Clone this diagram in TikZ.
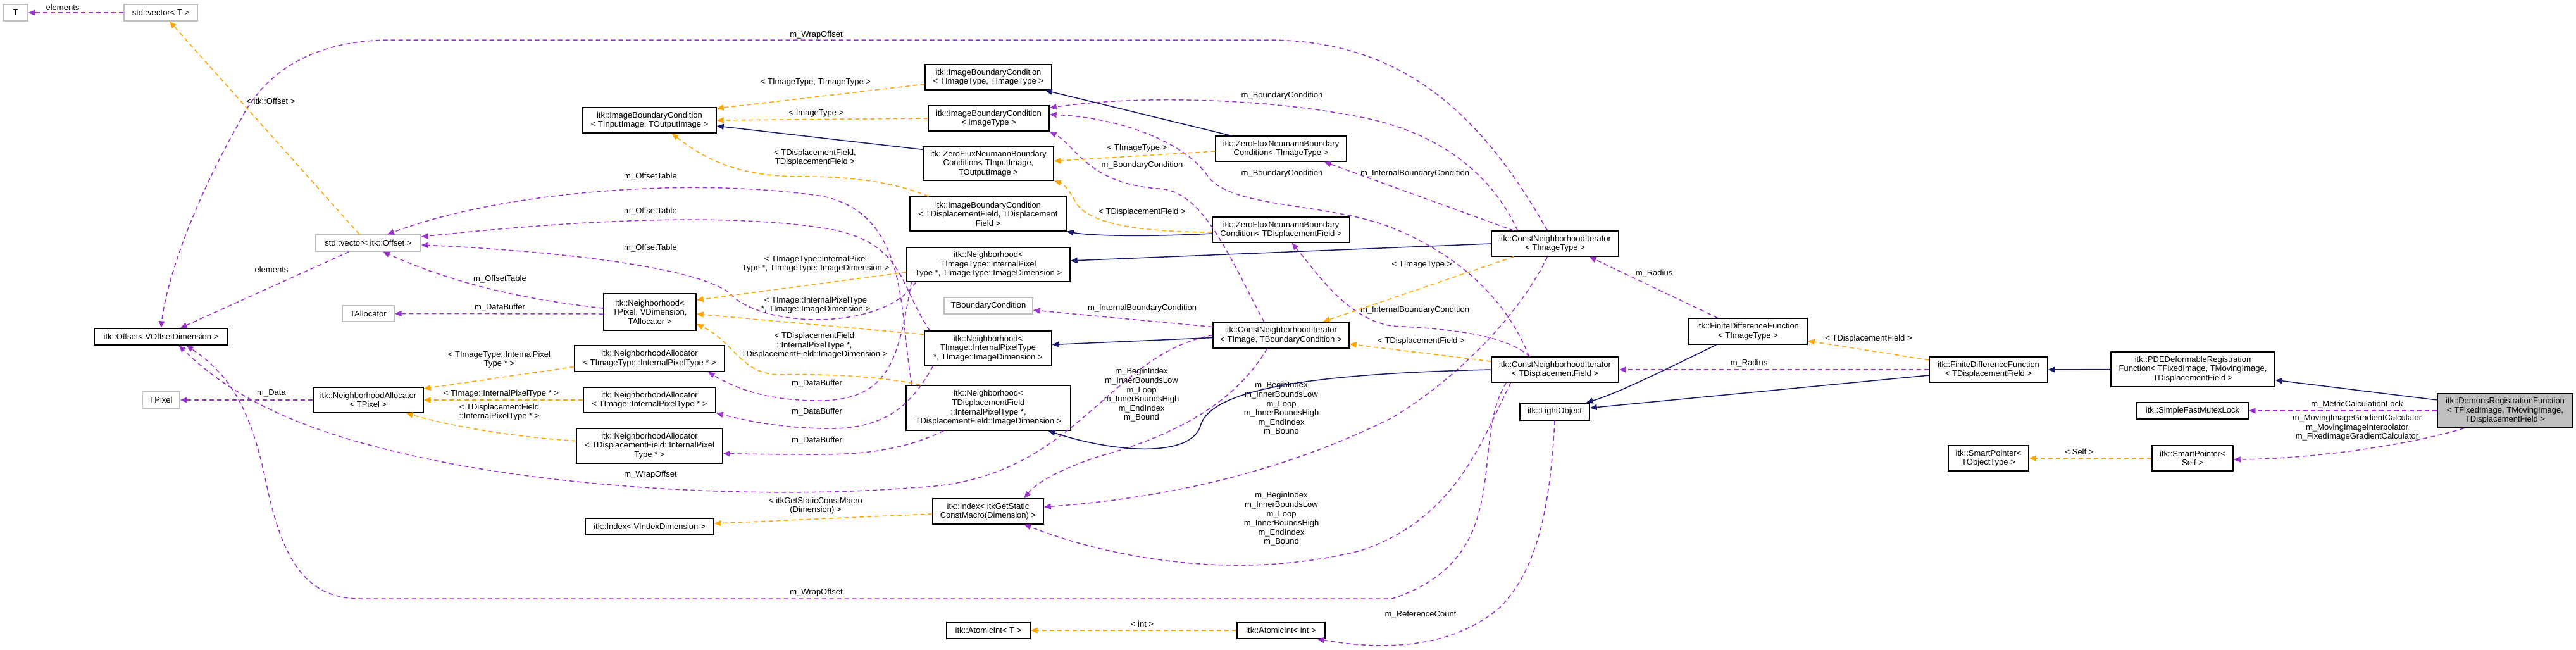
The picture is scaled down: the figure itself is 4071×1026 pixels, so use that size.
\documentclass[tikz,border=0pt]{standalone}
\usepackage{fontspec}
\setmainfont{Liberation Sans}
\usetikzlibrary{arrows.meta}
\definecolor{cpur}{HTML}{9A32CD}
\definecolor{corg}{HTML}{FFA500}
\definecolor{cnav}{HTML}{191970}
\definecolor{cgry}{HTML}{BFBFBF}
\newcommand\bx[7][]{\node[box,#1,minimum width={(#5-#3)*1pt},minimum height={(#6-#4)*1pt}] (#2) at ({(#3+#5)/2},{(#4+#6)/2}) {#7};}
\newcommand\lb[4]{\node[lbl] (#1) at (#2,#3) {#4};}
\begin{document}
\begin{tikzpicture}[x=1pt,y=-1pt,
  box/.style={draw=black,line width=1.4pt,fill=white,inner sep=0pt,align=center,font=\fontsize{13}{14.6}\selectfont},
  ext/.style={draw=cgry},
  lbl/.style={inner sep=0pt,align=center,font=\fontsize{13}{14.6}\selectfont},
  tip/.style={-{Triangle[length=11pt,width=9pt]}},
  use/.style={tip,draw=cpur,line width=1.5pt,dash pattern=on 7pt off 5pt},
  tpl/.style={tip,draw=corg,line width=1.5pt,dash pattern=on 7pt off 5pt},
  inh/.style={tip,draw=cnav,line width=1.5pt}]
\useasboundingbox (0,0) rectangle (4071,1026);
\fill[white] (0,0) rectangle (4071,1026);
% nodes
\bx[ext]{T}{5}{7}{44}{33}{T}
\bx[ext]{vecT}{196}{7}{312}{33}{std::vector< T >}
\bx[ext]{vecO}{499}{371}{665}{397}{std::vector< itk::Offset >}
\bx[ext]{TAlloc}{541}{483}{623}{508}{TAllocator}
\bx{Off}{149}{519}{360}{545}{itk::Offset< VOffsetDimension >}
\bx[ext]{TPixel}{225}{619}{284}{645}{TPixel}
\bx{n7}{495}{612}{669}{652}{itk::NeighborhoodAllocator\\< TPixel >}
\bx{n8}{921}{170}{1132}{210}{itk::ImageBoundaryCondition\\< TInputImage, TOutputImage >}
\bx{n9}{1462}{102}{1662}{142}{itk::ImageBoundaryCondition\\< TImageType, TImageType >}
\bx{n10}{1467}{167}{1658}{207}{itk::ImageBoundaryCondition\\< ImageType >}
\bx{n11}{1459}{232}{1665}{285}{itk::ZeroFluxNeumannBoundary\\Condition< TInputImage,\\TOutputImage >}
\bx{n12}{1438}{311}{1685}{365}{itk::ImageBoundaryCondition\\< TDisplacementField, TDisplacement\\Field >}
\bx{n13}{1433}{391}{1691}{445}{itk::Neighborhood<\\TImageType::InternalPixel\\Type *, TImageType::ImageDimension >}
\bx[ext]{TBC}{1492}{470}{1632}{496}{TBoundaryCondition}
\bx{n15}{1921}{215}{2128}{255}{itk::ZeroFluxNeumannBoundary\\Condition< TImageType >}
\bx{n16}{1916}{343}{2133}{383}{itk::ZeroFluxNeumannBoundary\\Condition< TDisplacementField >}
\bx{n17}{1917}{509}{2132}{550}{itk::ConstNeighborhoodIterator\\< TImage, TBoundaryCondition >}
\bx{n18}{1461}{523}{1662}{578}{itk::Neighborhood<\\TImage::InternalPixelType\\*, TImage::ImageDimension >}
\bx{n19}{1432}{609}{1692}{680}{itk::Neighborhood<\\TDisplacementField\\::InternalPixelType *,\\TDisplacementField::ImageDimension >}
\bx{n20}{1474}{788}{1649}{828}{itk::Index< itkGetStatic\\ConstMacro(Dimension) >}
\bx{n21}{1496}{983}{1628}{1009}{itk::AtomicInt< T >}
\bx{n22}{1955}{983}{2094}{1009}{itk::AtomicInt< int >}
\bx{n23}{954}{464}{1100}{522}{itk::Neighborhood<\\TPixel, VDimension,\\TAllocator >}
\bx{n24}{908}{546}{1145}{587}{itk::NeighborhoodAllocator\\< TImageType::InternalPixelType * >}
\bx{n25}{922}{612}{1131}{652}{itk::NeighborhoodAllocator\\< TImage::InternalPixelType * >}
\bx{n26}{911}{677}{1142}{732}{itk::NeighborhoodAllocator\\< TDisplacementField::InternalPixel\\Type * >}
\bx{n27}{925}{819}{1128}{845}{itk::Index< VIndexDimension >}
\bx{n28}{2357}{365}{2558}{405}{itk::ConstNeighborhoodIterator\\< TImageType >}
\bx{n29}{2669}{503}{2856}{544}{itk::FiniteDifferenceFunction\\< TImageType >}
\bx{n30}{2357}{564}{2558}{604}{itk::ConstNeighborhoodIterator\\< TDisplacementField >}
\bx{n31}{2402}{637}{2512}{664}{itk::LightObject}
\bx{n32}{3049}{564}{3236}{604}{itk::FiniteDifferenceFunction\\< TDisplacementField >}
\bx{n33}{3336}{556}{3595}{611}{itk::PDEDeformableRegistration\\Function< TFixedImage, TMovingImage,\\TDisplacementField >}
\bx[fill=cgry]{n34}{3852}{622}{4066}{676}{itk::DemonsRegistrationFunction\\< TFixedImage, TMovingImage,\\TDisplacementField >}
\bx{n35}{3377}{636}{3553}{662}{itk::SimpleFastMutexLock}
\bx{n36}{3401}{704}{3529}{744}{itk::SmartPointer<\\Self >}
\bx{n37}{3079}{704}{3206}{744}{itk::SmartPointer<\\TObjectType >}
% purple usage edges
\draw[use] (vecT) -- (T); \lb{la}{99}{12}{elements}
\draw[use] (vecO) -- (Off); \lb{lb}{429}{426}{elements}
\draw[use] ([xshift=-12pt]n28.north) .. controls (2330,160) and (2200,63) .. (2000,63) -- (620,63) .. controls (500,63) and (420,110) .. (380,190) .. controls (300,330) and (262,450) .. (Off.north);
\lb{lc}{1290}{55}{m\_WrapOffset}
\draw[use] ([xshift=-77pt]n30.south) .. controls (2320,700) and (2400,880) .. (2200,946) -- (570,946) .. controls (480,946) and (445,880) .. (420,760) .. controls (395,640) and (360,590) .. ([xshift=40pt]Off.south);
\lb{ld}{1290}{936}{m\_WrapOffset}
\draw[use] (n17.west) .. controls (1750,560) and (1700,760) .. (1450,770) .. controls (1200,790) and (900,770) .. (700,730) .. controls (500,690) and (380,640) .. ([xshift=28pt]Off.south);
\lb{le}{1028}{750}{m\_WrapOffset}
\draw[use] ([xshift=10pt]n19.north west) .. controls (1420,500) and (1440,340) .. (1300,310) .. controls (1100,280) and (800,300) .. ([xshift=30pt]vecO.north);
\lb{lf1}{1028}{279}{m\_OffsetTable}
\draw[use] ([xshift=9pt]n18.north west) .. controls (1420,450) and (1430,380) .. (1300,360) .. controls (1100,330) and (800,360) .. ([yshift=10pt]vecO.east);
\lb{lf2}{1028}{334}{m\_OffsetTable}
\draw[use] ([xshift=15pt]n13.south west) .. controls (1400,520) and (1220,520) .. (1160,470) .. controls (1120,420) and (850,395) .. ([yshift=-3pt]vecO.east);
\lb{lf3}{1028}{392}{m\_OffsetTable}
\draw[use] ([yshift=6pt]n23.west) .. controls (800,470) and (700,440) .. ([xshift=23pt]vecO.south);
\lb{lf4}{790}{441}{m\_OffsetTable}
\draw[use] ([yshift=-3pt]n23.west) -- (TAlloc.east); \lb{lg}{790}{486}{m\_DataBuffer}
\draw[use] (n7.west) -- (TPixel.east); \lb{lh}{429}{621}{m\_Data}
\draw[use] ([xshift=8pt]n13.south west) .. controls (1420,560) and (1410,630) .. (1300,633) .. controls (1210,634) and (1160,612) .. ([xshift=-27pt]n24.south east);
\lb{li1}{1291}{606}{m\_DataBuffer}
\draw[use] ([xshift=14pt]n18.south west) .. controls (1440,640) and (1400,680) .. (1300,677) .. controls (1220,675) and (1170,662) .. (n25.south east);
\lb{li2}{1291}{651}{m\_DataBuffer}
\draw[use] ([xshift=60pt]n19.south west) .. controls (1420,715) and (1350,718) .. (1290,718) .. controls (1200,718) and (1170,717) .. ([yshift=-12pt]n26.east);
\lb{li3}{1291}{696}{m\_DataBuffer}
\draw[use] ([yshift=13pt]n17.west) -- ([yshift=-7pt]TBC.east); \lb{lj}{1805}{487}{m\_InternalBoundaryCondition}
\draw[use] ([xshift=42pt]n28.north west) .. controls (2360,280) and (2280,210) .. (2150,185) .. controls (2000,155) and (1800,150) .. ([yshift=-4pt]n10.north east);
\lb{lk1}{2026}{151}{m\_BoundaryCondition}
\draw[use] ([xshift=-27pt]n17.north) .. controls (1940,400) and (1900,300) .. (1830,298) .. controls (1720,290) and (1700,230) .. (n10.south east);
\lb{lk2}{1805}{261}{m\_BoundaryCondition}
\draw[use] ([xshift=-41pt]n30.north) .. controls (2380,470) and (2300,400) .. (2200,360) .. controls (2100,320) and (1950,330) .. (1910,280) .. controls (1870,220) and (1760,185) .. ([yshift=6pt]n10.east);
\lb{lk3}{2026}{274}{m\_BoundaryCondition}
\draw[use] ([xshift=36pt]n28.north west) -- ([xshift=-36pt]n15.south east);
\lb{lk4}{2236}{274}{m\_InternalBoundaryCondition}
\draw[use] ([xshift=-40pt]n30.north) .. controls (2380,530) and (2300,520) .. (2200,515) .. controls (2130,505) and (2080,430) .. ([xshift=17pt]n16.south);
\lb{lk5}{2236}{490}{m\_InternalBoundaryCondition}
\draw[use] ([xshift=-22pt]n17.south) .. controls (1950,640) and (1850,690) .. (1740,720) .. controls (1680,740) and (1640,760) .. ([xshift=57pt]n20.north);
\lb{ll1}{1804}{624}{m\_BeginIndex\\m\_InnerBoundsLow\\m\_Loop\\m\_InnerBoundsHigh\\m\_EndIndex\\m\_Bound}
\draw[use] ([xshift=-12pt]n28.south) .. controls (2400,500) and (2300,600) .. (2200,660) .. controls (2000,760) and (1800,790) .. ([yshift=7pt]n20.east);
\lb{ll2}{2025}{646}{m\_BeginIndex\\m\_InnerBoundsLow\\m\_Loop\\m\_InnerBoundsHigh\\m\_EndIndex\\m\_Bound}
\draw[use] ([xshift=-70pt]n30.south) .. controls (2340,700) and (2300,820) .. (2150,870) .. controls (1950,920) and (1750,880) .. ([xshift=57pt]n20.south);
\lb{ll3}{2025}{820}{m\_BeginIndex\\m\_InnerBoundsLow\\m\_Loop\\m\_InnerBoundsHigh\\m\_EndIndex\\m\_Bound}
\draw[use] ([xshift=46pt]n29.north west) -- ([xshift=-47pt]n28.south east); \lb{lm}{2614}{432}{m\_Radius}
\draw[use] (n32.west) -- (n30.east); \lb{ln}{2764}{574}{m\_Radius}
\draw[use] (n31.south) .. controls (2450,800) and (2430,900) .. (2370,960) .. controls (2300,1020) and (2200,1030) .. ([xshift=-13pt]n22.south east);
\lb{lo}{2245}{971}{m\_ReferenceCount}
\draw[use] (n34.west) -- (n35.east); \lb{lp}{3725}{639}{m\_MetricCalculationLock}
\draw[use] ([xshift=-65pt]n34.south) .. controls (3800,705) and (3650,725) .. ([yshift=-2pt]n36.east);
\lb{lq}{3725}{676}{m\_MovingImageGradientCalculator\\m\_MovingImageInterpolator\\m\_FixedImageGradientCalculator}
% orange template edges
\draw[tpl] ([xshift=-14pt]vecO.north) -- ([xshift=14pt]vecT.south); \lb{t1}{428}{160}{< itk::Offset >}
\draw[tpl] ([yshift=-11pt]n9.west) -- ([yshift=-2pt]n8.north east); \lb{t2}{1289}{130}{< TImageType, TImageType >}
\draw[tpl] (n10.west) -- (n8.east); \lb{t3}{1290}{179}{< ImageType >}
\draw[tpl] ([xshift=30pt]n12.north west) .. controls (1420,290) and (1350,278) .. (1260,279) .. controls (1150,278) and (1100,240) .. ([xshift=35pt]n8.south);
\lb{t4}{1288}{249}{< TDisplacementField,\\TDisplacementField >}
\draw[tpl] ([yshift=-4pt]n15.west) -- ([yshift=4pt]n11.east); \lb{t5}{1797}{234}{< TImageType >}
\draw[tpl] ([yshift=-4pt]n16.west) .. controls (1780,366) and (1720,350) .. (1700,320) .. controls (1690,300) and (1680,290) .. (n11.south east);
\lb{t6}{1805}{335}{< TDisplacementField >}
\draw[tpl] ([yshift=-12pt]n13.west) -- ([yshift=19pt]n23.east);
\lb{t7}{1289}{417}{< TImageType::InternalPixel\\Type *, TImageType::ImageDimension >}
\draw[tpl] ([yshift=22pt]n18.west) -- ([yshift=-3pt]n23.east);
\lb{t8}{1289}{482}{< TImage::InternalPixelType\\*, TImage::ImageDimension >}
\draw[tpl] ([xshift=23pt]n19.north west) .. controls (1400,595) and (1300,590) .. (1230,592) .. controls (1170,590) and (1160,540) .. ([yshift=-19pt]n23.east);
\lb{t9}{1287}{546}{< TDisplacementField\\::InternalPixelType *,\\TDisplacementField::ImageDimension >}
\draw[tpl] ([yshift=-13pt]n24.west) -- ([yshift=18pt]n7.east);
\lb{t10}{789}{568}{< TImageType::InternalPixel\\Type * >}
\draw[tpl] (n25.west) -- (n7.east); \lb{t11}{792}{622}{< TImage::InternalPixelType * >}
\draw[tpl] ([yshift=8pt]n26.west) .. controls (800,690) and (700,670) .. ([xshift=-28pt]n7.south east);
\lb{t12}{789}{651}{< TDisplacementField\\::InternalPixelType * >}
\draw[tpl] ([yshift=-4pt]n20.west) -- ([yshift=5pt]n27.east); \lb{t13}{1289}{799}{< itkGetStaticConstMacro\\(Dimension) >}
\draw[tpl] (n22.west) -- (n21.east); \lb{t14}{1805}{986}{< int >}
\draw[tpl] ([xshift=36pt]n28.south west) -- ([xshift=-42pt]n17.north east); \lb{t15}{2247}{418}{< TImageType >}
\draw[tpl] ([yshift=13pt]n30.west) -- ([yshift=-14pt]n17.east); \lb{t16}{2246}{539}{< TDisplacementField >}
\draw[tpl] ([yshift=15pt]n32.west) -- ([yshift=-15pt]n29.east); \lb{t17}{2953}{535}{< TDisplacementField >}
\draw[tpl] (n36.west) -- (n37.east); \lb{t18}{3286}{714}{< Self >}
% navy inheritance edges
\draw[inh] ([yshift=-5pt]n11.north west) -- ([yshift=-9pt]n8.east);
\draw[inh] ([xshift=25pt]n15.north west) -- ([xshift=-11pt]n9.south east);
\draw[inh] ([yshift=-6pt]n16.west) .. controls (1800,375) and (1720,372) .. (n12.south east);
\draw[inh] (n28.west) -- ([yshift=6pt]n13.east);
\draw[inh] ([yshift=-4pt]n17.west) -- ([yshift=6pt]n18.east);
\draw[inh] (n30.west) .. controls (2100,590) and (1920,610) .. (1898,670) .. controls (1885,725) and (1760,715) .. ([xshift=-36pt]n19.south east);
\draw[inh] ([xshift=-50pt]n29.south) .. controls (2640,580) and (2560,620) .. ([xshift=-6pt]n31.north east);
\draw[inh] ([yshift=-9pt]n32.west) -- ([yshift=6pt]n31.east);
\draw[inh] (n33.west) -- (n32.east);
\draw[inh] ([yshift=17pt]n34.west) -- ([yshift=-17pt]n33.east);
\end{tikzpicture}
\end{document}
